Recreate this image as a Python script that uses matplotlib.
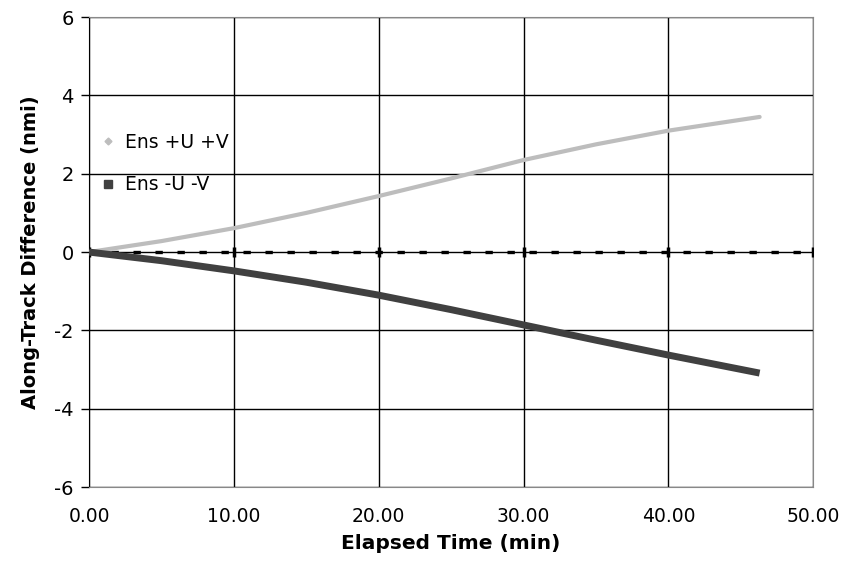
from matplotlib import pyplot as plt

# elapsed time (min) and along-track difference (nmi)
time_min = [0, 5, 10, 15, 20, 25, 30, 35, 40, 46.3]
ens_plus = [0, 0.28, 0.61, 1.0, 1.43, 1.88, 2.35, 2.75, 3.1, 3.45]
ens_minus = [0, -0.22, -0.48, -0.77, -1.1, -1.47, -1.86, -2.25, -2.63, -3.09]

zero_t = [0, 10, 20, 30, 40, 50]
zero_v = [0, 0, 0, 0, 0, 0]

x_ticks = [0, 10, 20, 30, 40, 50]
y_ticks = [-6, -4, -2, 0, 2, 4, 6]

plt.rcParams['font.family'] = ['DejaVu Sans']

fig = plt.figure(figsize=(8.57, 5.69), dpi=100)
ax = fig.add_axes([0.1039, 0.144, 0.845, 0.826])

ax.plot(zero_t, zero_v, color='black', lw=2.4, ls=(0, (2.2, 4.4)),
        marker='|', ms=7, mew=2.5, zorder=3)
ax.plot(time_min, ens_plus, color='#bdbdbd', lw=3.0, zorder=4,
        solid_capstyle='round', label='Ens +U +V')
ax.plot(time_min, ens_minus, color='#404040', lw=5.0, zorder=4,
        solid_capstyle='butt', label='Ens -U -V')

ax.set_xlim(0, 50)
ax.set_ylim(-6, 6)
ax.set_xticks(x_ticks)
ax.set_xticklabels([f"{v:.2f}" for v in x_ticks], fontsize=13.5)
ax.set_yticks(y_ticks)
ax.set_yticklabels([str(v) for v in y_ticks], fontsize=14)
ax.tick_params(axis='x', length=0, pad=14)
ax.tick_params(axis='y', length=6, width=1, direction='out', pad=5)
ax.grid(True, color='black', lw=1)
ax.set_axisbelow(True)

for s in ['top', 'right', 'bottom']:
    ax.spines[s].set_color('#888888')
ax.spines['left'].set_color('black')

ax.set_xlabel("Elapsed Time (min)", fontsize=14.5, fontweight='bold', labelpad=6)
ax.set_ylabel("Along-Track Difference (nmi)", fontsize=14, fontweight='bold', labelpad=10)

h1 = plt.Line2D([], [], color='#bdbdbd', marker='D', ms=3.5, ls='none')
h2 = plt.Line2D([], [], color='#404040', marker='s', ms=5.5, ls='none')
ax.legend([h1, h2], ['Ens +U +V', 'Ens -U -V'], loc='upper left',
          bbox_to_anchor=(-0.005, 0.79), frameon=False, fontsize=13.5,
          handlelength=0.6, handletextpad=0.6, labelspacing=1.25)

fig.savefig('out.png', dpi=100)
